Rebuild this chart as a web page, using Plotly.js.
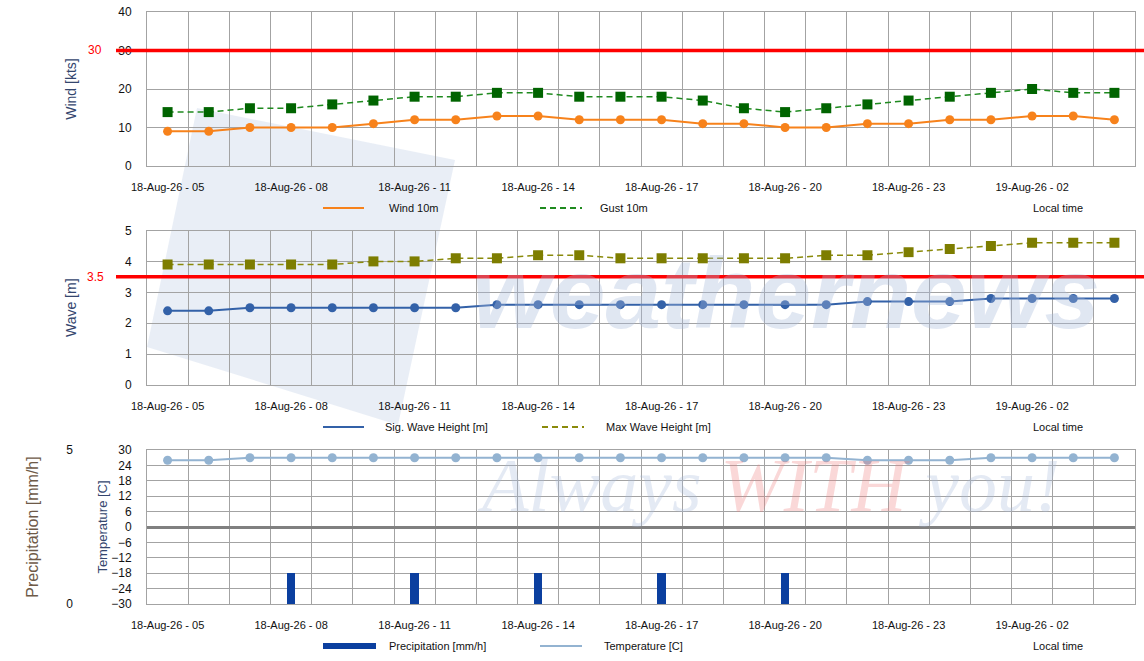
<!DOCTYPE html>
<html>
<head>
<meta charset="utf-8">
<script src="https://cdn.plot.ly/plotly-3.0.1.min.js"></script>
<style>html,body{margin:0;padding:0;background:#fff;}#chart{width:1144px;height:661px;}</style>
</head>
<body>
<div id="chart"></div>
<script>
// ---- data ----
const times = ['18-Aug-26 - 05','18-Aug-26 - 06','18-Aug-26 - 07','18-Aug-26 - 08','18-Aug-26 - 09','18-Aug-26 - 10',
  '18-Aug-26 - 11','18-Aug-26 - 12','18-Aug-26 - 13','18-Aug-26 - 14','18-Aug-26 - 15','18-Aug-26 - 16',
  '18-Aug-26 - 17','18-Aug-26 - 18','18-Aug-26 - 19','18-Aug-26 - 20','18-Aug-26 - 21','18-Aug-26 - 22',
  '18-Aug-26 - 23','19-Aug-26 - 00','19-Aug-26 - 01','19-Aug-26 - 02','19-Aug-26 - 03','19-Aug-26 - 04'];
const wind10m = [9,9,10,10,10,11,12,12,13,13,12,12,12,11,11,10,10,11,11,12,12,13,13,12];
const gust10m = [14,14,15,15,16,17,18,18,19,19,18,18,18,17,15,14,15,16,17,18,19,20,19,19];
const sigWaveHeight = [2.4,2.4,2.5,2.5,2.5,2.5,2.5,2.5,2.6,2.6,2.6,2.6,2.6,2.6,2.6,2.6,2.6,2.7,2.7,2.7,2.8,2.8,2.8,2.8];
const maxWaveHeight = [3.9,3.9,3.9,3.9,3.9,4.0,4.0,4.1,4.1,4.2,4.2,4.1,4.1,4.1,4.1,4.1,4.2,4.2,4.3,4.4,4.5,4.6,4.6,4.6];
const temperature = [26,26,27,27,27,27,27,27,27,27,27,27,27,27,27,27,27,26,26,26,27,27,27,27];
const precipitation = [0,0,0,1,0,0,1,0,0,1,0,0,1,0,0,1,0,0,0,0,0,0,0,0];
const windLimit = 30;
const waveLimit = 3.5;
const labelEvery = 3;

// ---- helpers ----
const W = 1144, H = 661;
const px = v => v / W;
const py = v => 1 - v / H;
const xIdx = times.map((_, i) => i);
const tickvals = xIdx.filter(i => i % labelEvery === 0);
const ticktext = tickvals.map(i => times[i]);
const xDom = [px(147), px(1135)];
const GRID = '#a3a3a3';
const FONT = 'Liberation Sans, Arial, Helvetica, sans-serif';
const TITLE_COLOR = '#34466e';

function xAxis(anchor) {
  return {
    domain: xDom, anchor: anchor, range: [-0.5, times.length - 0.5],
    tickmode: 'array', tickvals: tickvals, ticktext: ticktext,
    showgrid: false, zeroline: false, showline: true, mirror: true,
    linecolor: GRID, linewidth: 1, ticks: '', ticklabelstandoff: 11,
    tickfont: {size: 11, color: '#111'},
    minor: {tickmode: 'linear', tick0: -0.5, dtick: 1, showgrid: true, gridcolor: GRID, gridwidth: 1, ticks: ''},
    fixedrange: true
  };
}
function yAxis(domain, anchor, range, dtick, title, tsize, standoff) {
  return {
    domain: domain, anchor: anchor, range: range, tickmode: 'linear', tick0: range[0], dtick: dtick,
    showgrid: true, gridcolor: GRID, gridwidth: 1, zeroline: false,
    showline: true, mirror: true, linecolor: GRID, linewidth: 1,
    ticks: '', ticklabelstandoff: 12, tickfont: {size: 12, color: '#111'},
    title: {text: title, font: {size: tsize, color: TITLE_COLOR, family: FONT}, standoff: standoff},
    fixedrange: true
  };
}

const traces = [
  {x: xIdx, y: wind10m, xaxis: 'x', yaxis: 'y', name: 'Wind 10m', type: 'scatter', mode: 'lines+markers',
   line: {color: '#f7821b', width: 2}, marker: {symbol: 'circle', size: 9, color: '#f7821b'}},
  {x: xIdx, y: gust10m, xaxis: 'x', yaxis: 'y', name: 'Gust 10m', type: 'scatter', mode: 'lines+markers',
   line: {color: '#1f8a1f', width: 1.5, dash: '6px,4px'}, marker: {symbol: 'square', size: 10, color: '#006400'}},
  {x: xIdx, y: sigWaveHeight, xaxis: 'x2', yaxis: 'y2', name: 'Sig. Wave Height [m]', type: 'scatter', mode: 'lines+markers',
   line: {color: '#3361a8', width: 2}, marker: {symbol: 'circle', size: 9, color: '#3361a8'}},
  {x: xIdx, y: maxWaveHeight, xaxis: 'x2', yaxis: 'y2', name: 'Max Wave Height [m]', type: 'scatter', mode: 'lines+markers',
   line: {color: '#8a8a0a', width: 1.5, dash: '6px,4px'}, marker: {symbol: 'square', size: 10, color: '#7d7d00'}},
  {x: xIdx, y: precipitation, xaxis: 'x3', yaxis: 'y4', name: 'Precipitation [mm/h]', type: 'bar', width: 0.2,
   marker: {color: '#0b3f9f', line: {width: 0}}},
  {x: xIdx, y: temperature, xaxis: 'x3', yaxis: 'y3', name: 'Temperature [C]', type: 'scatter', mode: 'lines+markers',
   line: {color: '#93b3d1', width: 2}, marker: {symbol: 'circle', size: 9, color: '#93b3d1'}}
];

const tempAxis = yAxis([py(604), py(450)], 'x3', [-30, 30], 6, 'Temperature [C]', 13, 0);
tempAxis.zeroline = true; tempAxis.zerolinecolor = '#808080'; tempAxis.zerolinewidth = 3;

function legendText(text, x, y) {
  return {text: text, xref: 'paper', yref: 'paper', x: px(x), y: py(y), xanchor: 'left', yanchor: 'middle',
    showarrow: false, font: {size: 11, color: '#111'}};
}

const layout = {
  width: W, height: H, margin: {l: 0, r: 0, t: 0, b: 0},
  paper_bgcolor: '#ffffff', plot_bgcolor: 'rgba(0,0,0,0)',
  font: {family: FONT, color: '#111'},
  showlegend: false, bargap: 0,
  xaxis: xAxis('y'), xaxis2: xAxis('y2'), xaxis3: xAxis('y3'),
  yaxis: yAxis([py(166), py(12)], 'x', [0, 40], 10, 'Wind [kts]', 14, 38),
  yaxis2: yAxis([py(385), py(230.5)], 'x2', [0, 5], 1, 'Wave [m]', 14, 45),
  yaxis3: tempAxis,
  yaxis4: {overlaying: 'y3', anchor: 'free', position: px(73), side: 'left', range: [0, 5],
    tickmode: 'array', tickvals: [0, 5], showgrid: false, zeroline: false, showline: false, ticks: '',
    tickfont: {size: 12, color: '#111'}, fixedrange: true,
    title: {text: 'Precipitation [mm/h]', font: {size: 16, color: '#6e5a48', family: FONT}, standoff: 22}},
  shapes: [
    // watermark logo
    {type: 'path', xref: 'paper', yref: 'paper', layer: 'below',
     path: `M${px(197)},${py(108)} L${px(455)},${py(160)} L${px(398)},${py(425)} L${px(147)},${py(347)} Z`,
     fillcolor: 'rgba(200,212,232,0.4)', line: {width: 0}},
    // thresholds
    {type: 'line', xref: 'paper', yref: 'y', x0: px(116), x1: 1, y0: windLimit, y1: windLimit, line: {color: '#ff0000', width: 3.5}},
    {type: 'line', xref: 'paper', yref: 'y2', x0: px(116), x1: 1, y0: waveLimit, y1: waveLimit, line: {color: '#ff0000', width: 3.5}},
    // legend samples
    {type: 'line', xref: 'paper', yref: 'paper', x0: px(323), x1: px(364), y0: py(208), y1: py(208), line: {color: '#f7821b', width: 2}},
    {type: 'line', xref: 'paper', yref: 'paper', x0: px(540), x1: px(582), y0: py(208), y1: py(208), line: {color: '#1f8a1f', width: 2, dash: '6px,4px'}},
    {type: 'line', xref: 'paper', yref: 'paper', x0: px(323), x1: px(364), y0: py(427), y1: py(427), line: {color: '#3361a8', width: 2}},
    {type: 'line', xref: 'paper', yref: 'paper', x0: px(542), x1: px(584), y0: py(427), y1: py(427), line: {color: '#8a8a0a', width: 2, dash: '6px,4px'}},
    {type: 'line', xref: 'paper', yref: 'paper', x0: px(323), x1: px(376), y0: py(646), y1: py(646), line: {color: '#0b3f9f', width: 6}},
    {type: 'line', xref: 'paper', yref: 'paper', x0: px(540), x1: px(582), y0: py(646), y1: py(646), line: {color: '#93b3d1', width: 2}}
  ],
  annotations: [
    {text: '<b><i>weathernews</i></b>', xref: 'paper', yref: 'paper', x: px(786), y: py(293), xanchor: 'center', yanchor: 'middle',
     showarrow: false, font: {size: 100, color: '#a9bbdc', family: 'Liberation Sans, Arial, sans-serif'}, opacity: 0.35},
    {text: '<i>Always <span style="color:#f08080">WITH</span> you!</i>', xref: 'paper', yref: 'paper', x: px(768), y: py(485),
     xanchor: 'center', yanchor: 'middle', showarrow: false,
     font: {size: 76, color: '#a9bbdc', family: 'Liberation Serif, Times New Roman, serif'}, opacity: 0.3},
    {text: String(windLimit), xref: 'paper', yref: 'y', x: px(95), y: windLimit, xanchor: 'center', yanchor: 'middle',
     showarrow: false, font: {size: 12, color: '#ff0000'}},
    {text: String(waveLimit), xref: 'paper', yref: 'y2', x: px(95), y: waveLimit, xanchor: 'center', yanchor: 'middle',
     showarrow: false, font: {size: 12, color: '#ff0000'}},
    legendText('Wind 10m', 387, 208),
    legendText('Gust 10m', 598, 208),
    legendText('Local time', 1031, 208),
    legendText('Sig. Wave Height [m]', 383, 427),
    legendText('Max Wave Height [m]', 604, 427),
    legendText('Local time', 1031, 427),
    legendText('Precipitation [mm/h]', 387, 646),
    legendText('Temperature [C]', 602, 646),
    legendText('Local time', 1031, 646)
  ]
};

Plotly.newPlot('chart', traces, layout, {displayModeBar: false, staticPlot: true});
</script>
</body>
</html>
